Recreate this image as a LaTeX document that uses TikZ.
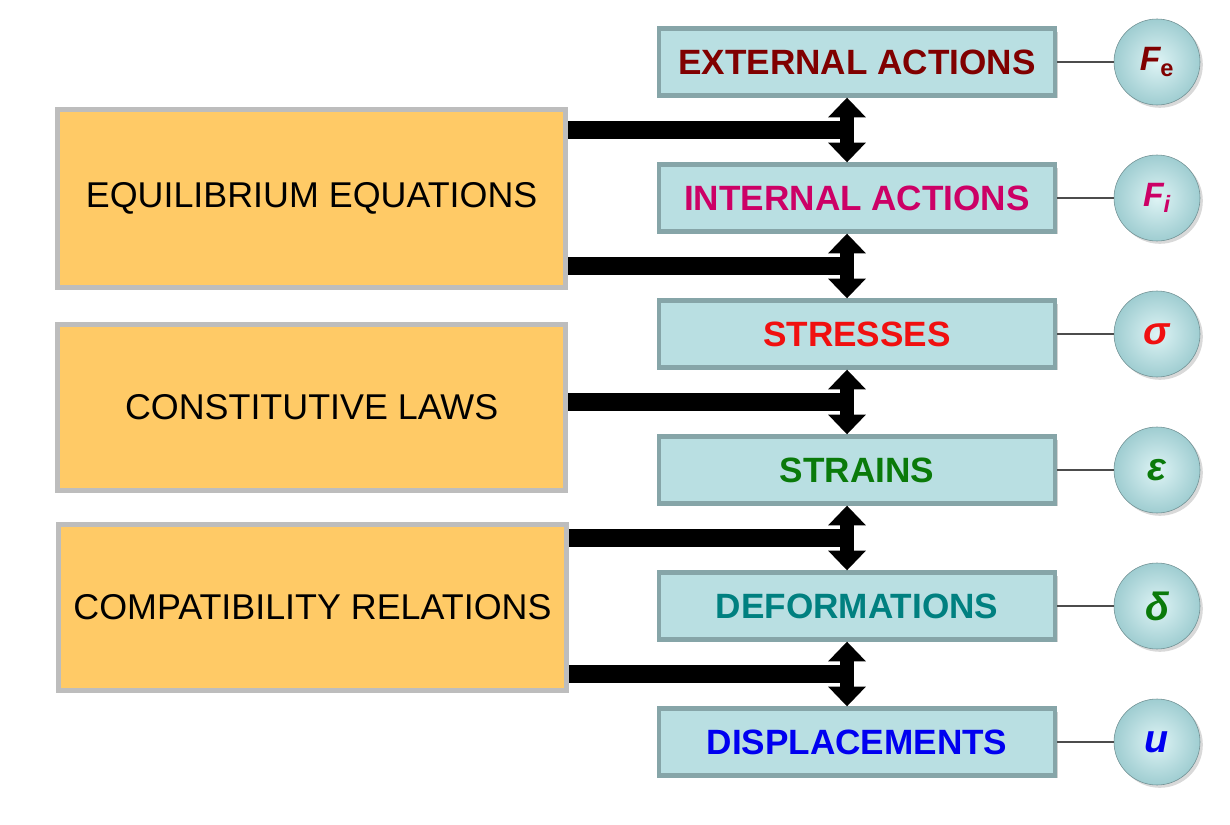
\documentclass[tikz,border=0pt]{standalone}
\usepackage{fontspec}
\setmainfont{Liberation Sans}
\usepackage{tikz}
\usetikzlibrary{arrows.meta, positioning, shadows, calc}
\definecolor{stateFill}{HTML}{B9DFE2}
\definecolor{stateRim}{HTML}{86A5A8}
\definecolor{lawFill}{HTML}{FFCA66}
\definecolor{lawRim}{HTML}{BDBDBD}
\definecolor{ballFill}{HTML}{C8ECEE}
\definecolor{ballRim}{HTML}{9FCDD1}
\definecolor{extRed}{HTML}{800000}
\definecolor{intMag}{HTML}{CC0066}
\definecolor{strRed}{HTML}{F01010}
\definecolor{strnGreen}{HTML}{0A7A0A}
\definecolor{defTeal}{HTML}{008080}
\definecolor{dispBlue}{HTML}{0000F0}

\begin{document}
\begin{tikzpicture}[
        statebox/.style={rectangle, draw=stateRim, fill=stateFill, line width=3.5pt, minimum width=9.9cm, minimum height=1.66cm, font=\fontsize{25}{29}\selectfont\bfseries, drop shadow={shadow xshift=2pt, shadow yshift=-2pt, opacity=0.35}},
        lawbox/.style={rectangle, draw=lawRim, fill=lawFill, line width=3.5pt, minimum width=12.7cm, font=\fontsize{25.5}{30}\selectfont, drop shadow={shadow xshift=2pt, shadow yshift=-2pt, opacity=0.3}},
        symbolball/.style={circle, minimum size=2.15cm, inner sep=0pt, inner color=ballFill!60!white, outer color=ballRim, draw=ballRim!70!black, thin, font=\fontsize{28}{32}\selectfont\bfseries\itshape, drop shadow={shadow xshift=2pt, shadow yshift=-2pt, opacity=0.3}},
        link/.style={draw=black!70, line width=0.9pt},
        bar/.style={draw=black, line width=12.8pt},
        dblarrow/.style={{Triangle[length=14pt, width=26pt]}-{Triangle[length=14pt, width=26pt]}, line width=10pt, draw=black}
    ]
    \useasboundingbox (0,0) rectangle (30.75,20.6);

    % Quantities
    \node[statebox, text=extRed] (ext) at (21.425, 19.05) {EXTERNAL ACTIONS};
    \node[statebox, text=intMag] (int) at (21.425, 15.65) {INTERNAL ACTIONS};
    \node[statebox, text=strRed] (str) at (21.425, 12.25) {STRESSES};
    \node[statebox, text=strnGreen] (strn) at (21.425, 8.85) {STRAINS};
    \node[statebox, text=defTeal] (def) at (21.425, 5.45) {DEFORMATIONS};
    \node[statebox, text=dispBlue] (disp) at (21.425, 2.05) {DISPLACEMENTS};

    % Symbols
    \node[symbolball, text=extRed] (fe) at (28.925, 19.05) {{\fontsize{24}{28}\selectfont F\textsubscript{\upshape e}}};
    \node[symbolball, text=intMag] (fi) at (28.925, 15.65) {{\fontsize{24}{28}\selectfont F\textsubscript{i}}};
    \node[symbolball, text=strRed] (sig) at (28.925, 12.25) {σ};
    \node[symbolball, text=strnGreen] (eps) at (28.925, 8.85) {ε};
    \node[symbolball, text=strnGreen] (del) at (28.925, 5.45) {δ};
    \node[symbolball, text=dispBlue] (u) at (28.925, 2.05) {u};

    \draw[link] (ext) -- (fe);
    \draw[link] (int) -- (fi);
    \draw[link] (str) -- (sig);
    \draw[link] (strn) -- (eps);
    \draw[link] (def) -- (del);
    \draw[link] (disp) -- (u);

    % Laws
    \node[lawbox, minimum height=4.45cm] (eq) at (7.79, 15.64) {EQUILIBRIUM EQUATIONS};
    \node[lawbox, minimum height=4.15cm] (cons) at (7.79, 10.41) {CONSTITUTIVE LAWS};
    \node[lawbox, minimum height=4.15cm] (comp) at (7.81, 5.41) {COMPATIBILITY RELATIONS};

    % Double arrows between quantities
    \coordinate (m1) at ($([xshift=-0.25cm]ext.south)!0.5!([xshift=-0.25cm]int.north)$);
    \coordinate (m2) at ($([xshift=-0.25cm]int.south)!0.5!([xshift=-0.25cm]str.north)$);
    \coordinate (m3) at ($([xshift=-0.25cm]str.south)!0.5!([xshift=-0.25cm]strn.north)$);
    \coordinate (m4) at ($([xshift=-0.25cm]strn.south)!0.5!([xshift=-0.25cm]def.north)$);
    \coordinate (m5) at ($([xshift=-0.25cm]def.south)!0.5!([xshift=-0.25cm]disp.north)$);

    \draw[bar] (eq.east |- m1) -- (m1);
    \draw[bar] (eq.east |- m2) -- (m2);
    \draw[bar] (cons.east |- m3) -- (m3);
    \draw[bar] (comp.east |- m4) -- (m4);
    \draw[bar] (comp.east |- m5) -- (m5);

    \draw[dblarrow] ([xshift=-0.25cm]ext.south) -- ([xshift=-0.25cm]int.north);
    \draw[dblarrow] ([xshift=-0.25cm]int.south) -- ([xshift=-0.25cm]str.north);
    \draw[dblarrow] ([xshift=-0.25cm]str.south) -- ([xshift=-0.25cm]strn.north);
    \draw[dblarrow] ([xshift=-0.25cm]strn.south) -- ([xshift=-0.25cm]def.north);
    \draw[dblarrow] ([xshift=-0.25cm]def.south) -- ([xshift=-0.25cm]disp.north);
\end{tikzpicture}
\end{document}
